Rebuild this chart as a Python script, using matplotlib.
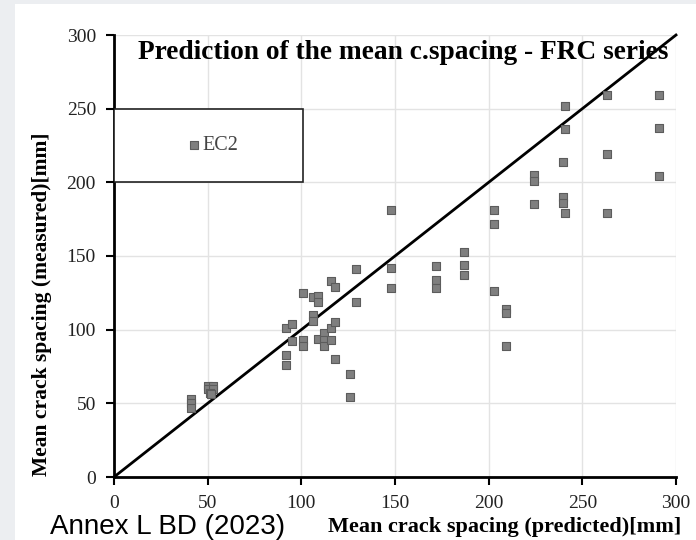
import matplotlib
matplotlib.use('Agg')
import matplotlib.pyplot as plt
from matplotlib.patches import Rectangle

# EC2 predicted vs measured mean crack spacing [mm]
predicted = [41, 41, 41,
             50, 53, 50, 53, 51, 52,
             92, 92, 92,
             95, 95,
             101, 101, 101,
             106, 106, 106,
             109, 109, 109,
             112, 112, 112,
             116, 116, 116,
             118, 118, 118,
             126, 126,
             129, 129,
             148, 148, 148,
             172, 172, 172,
             187, 187, 187,
             203, 203, 203,
             209, 209, 209,
             224, 224, 224,
             239.5, 239.5, 239.5,
             241, 241, 241,
             263, 263, 263,
             291, 291, 291]
measured = [53, 50, 47,
            62, 62, 60, 60, 57, 56,
            101, 83, 76,
            104, 92,
            125, 93, 89,
            122, 110, 106,
            123, 119, 94,
            98, 93, 89,
            133, 101, 93,
            129, 105, 80,
            70, 54,
            141, 119,
            181, 142, 128,
            143, 134, 128,
            153, 144, 137,
            181, 172, 126,
            114, 111, 89,
            205, 201, 185,
            214, 190, 186,
            252, 236, 179,
            259, 219, 179,
            259, 237, 204]

serif = 'Liberation Serif'

fig = plt.figure(figsize=(6.96, 5.4), dpi=100, facecolor='#eceef1')
# white slide panel behind the chart
fig.patches.append(Rectangle((15/696, 0), 1, 536/540, transform=fig.transFigure,
                             facecolor='white', edgecolor='none', zorder=-5))

ax = fig.add_axes([114/696, 63/540, 562/696, 442/540])
ax.set_facecolor('none')

ax.set_xlim(0, 300)
ax.set_ylim(0, 300)
ax.set_xticks(range(0, 301, 50))
ax.set_yticks(range(0, 301, 50))
ax.grid(True, color='#e3e3e3', linewidth=1.0)
ax.set_axisbelow(True)

for s in ['top', 'right']:
    ax.spines[s].set_visible(False)
for s in ['left', 'bottom']:
    ax.spines[s].set_linewidth(2)
    ax.spines[s].set_color('black')
ax.tick_params(direction='out', length=6, width=1.5, color='black', pad=7)
for lab in ax.get_xticklabels() + ax.get_yticklabels():
    lab.set_fontfamily(serif)
    lab.set_fontsize(14)
    lab.set_color('#222222')

# 1:1 line
ax.plot([0, 300], [0, 300], color='black', linewidth=2, zorder=3, clip_on=False)

sc = ax.scatter(predicted, measured, marker='s', s=30, facecolor='#7f7f7f',
                edgecolor='#5c5c5c', linewidth=0.8, zorder=4, clip_on=False)

# legend box
ax.add_patch(Rectangle((0, 200), 101, 50, facecolor='white', edgecolor='#222222',
                       linewidth=1.2, zorder=5))
leg = ax.legend([sc], ['EC2'], loc='center', bbox_to_anchor=(0.177, 0.749),
                frameon=False, handlelength=0.5, handletextpad=0.15, borderpad=0,
                scatterpoints=1, prop={'family': serif, 'size': 14.5})
leg.set_zorder(6)
for t in leg.get_texts():
    t.set_color('#444444')

ax.text(0.514, 0.96, 'Prediction of the mean c.spacing - FRC series',
        transform=ax.transAxes, ha='center', va='center', fontfamily=serif,
        fontweight='bold', fontsize=19.7, zorder=2)

fig.text(505/696, 1 - 527/540, 'Mean crack spacing (predicted)[mm]', ha='center',
         va='center', fontfamily=serif, fontweight='bold', fontsize=16)
fig.text(42/696, 1 - 304/540, 'Mean crack spacing (measured)[mm]', ha='center',
         va='center', rotation=90, fontfamily=serif, fontweight='bold', fontsize=15.5)
fig.text(50/696, 1 - 527/540, 'Annex L BD (2023)', ha='left', va='center',
         fontfamily='Liberation Sans', fontsize=20)

fig.savefig('out.png', dpi=100, facecolor=fig.get_facecolor())
